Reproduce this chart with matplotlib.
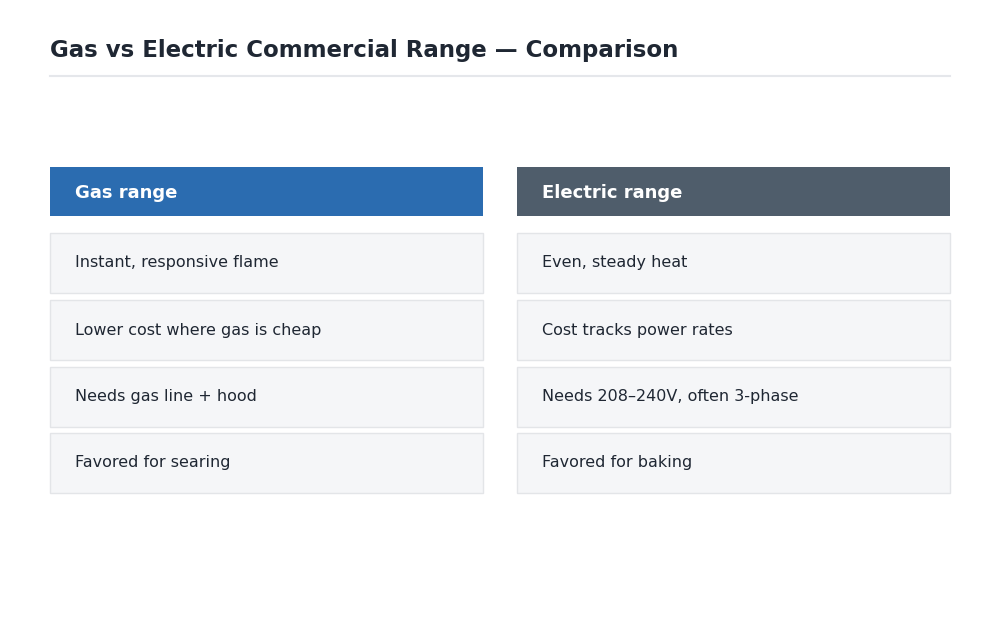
import matplotlib
matplotlib.use("Agg")
import matplotlib.pyplot as plt
from matplotlib.patches import Rectangle

title = "Gas vs Electric Commercial Range — Comparison"
headers = ["Gas range", "Electric range"]
gas_items = ["Instant, responsive flame", "Lower cost where gas is cheap",
             "Needs gas line + hood", "Favored for searing"]
electric_items = ["Even, steady heat", "Cost tracks power rates",
                  "Needs 208–240V, often 3-phase", "Favored for baking"]
header_colors = ["#2b6cb0", "#4f5d6b"]

fig = plt.figure(figsize=(10, 6.34), dpi=100)
ax = fig.add_axes([0, 0, 1, 1])
ax.set_xlim(0, 1000)
ax.set_ylim(634, 0)
ax.axis("off")

ax.text(50, 50, title, fontsize=16.5, fontweight="bold", color="#1f2733", va="center", ha="left")
ax.plot([50, 950], [76, 76], color="#e5e7eb", lw=1.5)

cols_x = [50, 517]
col_w = 433
row_tops = [233, 300, 367, 433]
row_h = 60
for ci, (x0, hdr, items) in enumerate(zip(cols_x, headers, [gas_items, electric_items])):
    ax.add_patch(Rectangle((x0, 167), col_w, 49, facecolor=header_colors[ci], edgecolor="none"))
    ax.text(x0 + 25, 192.5, hdr, fontsize=13, fontweight="bold", color="white", va="center", ha="left")
    for yt, item in zip(row_tops, items):
        ax.add_patch(Rectangle((x0, yt), col_w, row_h, facecolor="#f5f6f8", edgecolor="#e3e5e8", lw=1))
        ax.text(x0 + 25, yt + row_h / 2, item, fontsize=11.5, color="#1f2733", va="center", ha="left")

fig.savefig("out.png", dpi=100, facecolor="white")
